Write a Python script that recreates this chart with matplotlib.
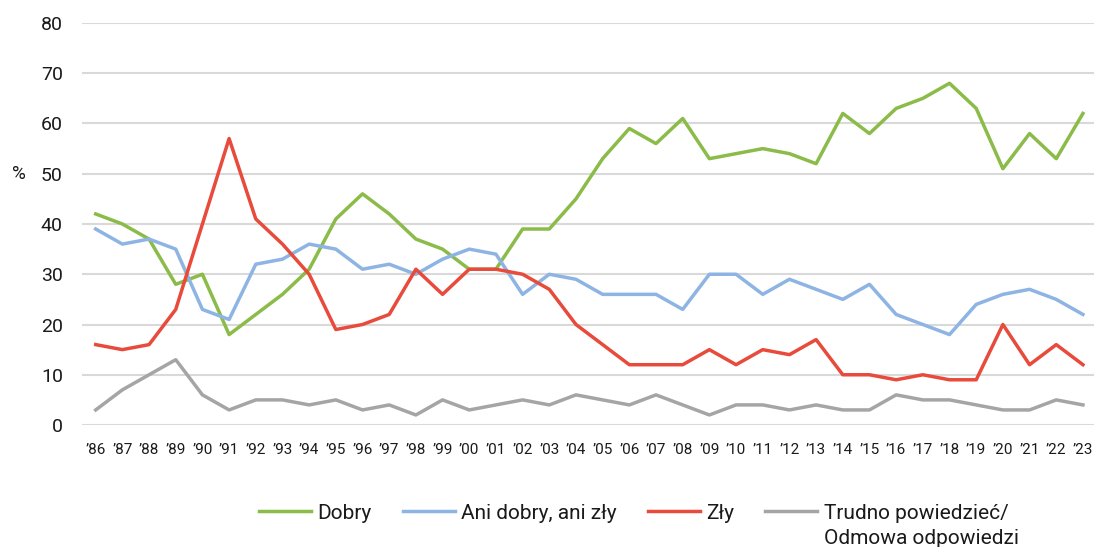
import matplotlib
matplotlib.use('Agg')
import matplotlib.pyplot as plt
from matplotlib.transforms import IdentityTransform

plt.rcParams['font.family'] = ['Roboto', 'DejaVu Sans']

years = ["’86", "’87", "’88", "’89", "’90", "’91", "’92", "’93", "’94", "’95",
         "’96", "’97", "’98", "’99", "’00", "’01", "’02", "’03", "’04", "’05",
         "’06", "’07", "’08", "’09", "’10", "’11", "’12", "’13", "’14", "’15",
         "’16", "’17", "’18", "’19", "’20", "’21", "’22", "’23"]

dobry = [42, 40, 37, 28, 30, 18, 22, 26, 31, 41, 46, 42, 37, 35, 31, 31, 39, 39, 45, 53,
         59, 56, 61, 53, 54, 55, 54, 52, 62, 58, 63, 65, 68, 63, 51, 58, 53, 62]
ani = [39, 36, 37, 35, 23, 21, 32, 33, 36, 35, 31, 32, 30, 33, 35, 34, 26, 30, 29, 26,
       26, 26, 23, 30, 30, 26, 29, 27, 25, 28, 22, 20, 18, 24, 26, 27, 25, 22]
zly = [16, 15, 16, 23, 40, 57, 41, 36, 30, 19, 20, 22, 31, 26, 31, 31, 30, 27, 20, 16,
       12, 12, 12, 15, 12, 15, 14, 17, 10, 10, 9, 10, 9, 9, 20, 12, 16, 12]
trudno = [3, 7, 10, 13, 6, 3, 5, 5, 4, 5, 3, 4, 2, 5, 3, 4, 5, 4, 6, 5,
          4, 6, 4, 2, 4, 4, 3, 4, 3, 3, 6, 5, 5, 4, 3, 3, 5, 4]

series = [
    ("Dobry", dobry, "#8bbb48"),
    ("Ani dobry, ani zły", ani, "#8db4e3"),
    ("Zły", zly, "#e84a3b"),
    ("Trudno powiedzieć/", trudno, "#a5a5a5"),
]
label_line2 = "Odmowa odpowiedzi"

fig = plt.figure(figsize=(10.98, 5.47), dpi=100)
ax = fig.add_axes([0.075, 0.223, 0.921, 0.735])

x = list(range(len(years)))
for name, vals, col in series:
    ax.plot(x, vals, color=col, lw=2.5, label=name, clip_on=False, zorder=3)

ax.set_ylim(0, 80)
ax.set_yticks(range(0, 81, 10))
ax.set_xlim(-0.5, 37.4)
ax.set_xticks(x)
ax.set_xticklabels(years)
ax.grid(axis='y', color='#d9d9d9', lw=1.5)
ax.set_axisbelow(True)
for s in ax.spines.values():
    s.set_visible(False)
ax.tick_params(axis='both', length=0, colors='#1a1a1a')
ax.tick_params(axis='y', labelsize=14, pad=14)
ax.tick_params(axis='x', labelsize=11, pad=13)

fig.text(0.011, 0.682, "%", fontsize=13.5, color='#1a1a1a', va='center')

leg = fig.legend(loc='center', bbox_to_anchor=(0.577, 0.062), ncol=4,
                 frameon=False, fontsize=15, handlelength=2.5, columnspacing=1.5,
                 handletextpad=0.3)
for t in leg.get_texts():
    t.set_color('#1a1a1a')

# second line of the last legend label, set under the first one
fig.canvas.draw()
bb = leg.get_texts()[3].get_window_extent(fig.canvas.get_renderer())
fig.text(bb.x0, (bb.y0 + bb.y1) / 2 - 25, label_line2, fontsize=15, color='#1a1a1a',
         va='center', ha='left', transform=IdentityTransform())

fig.savefig("out.png", dpi=100)
